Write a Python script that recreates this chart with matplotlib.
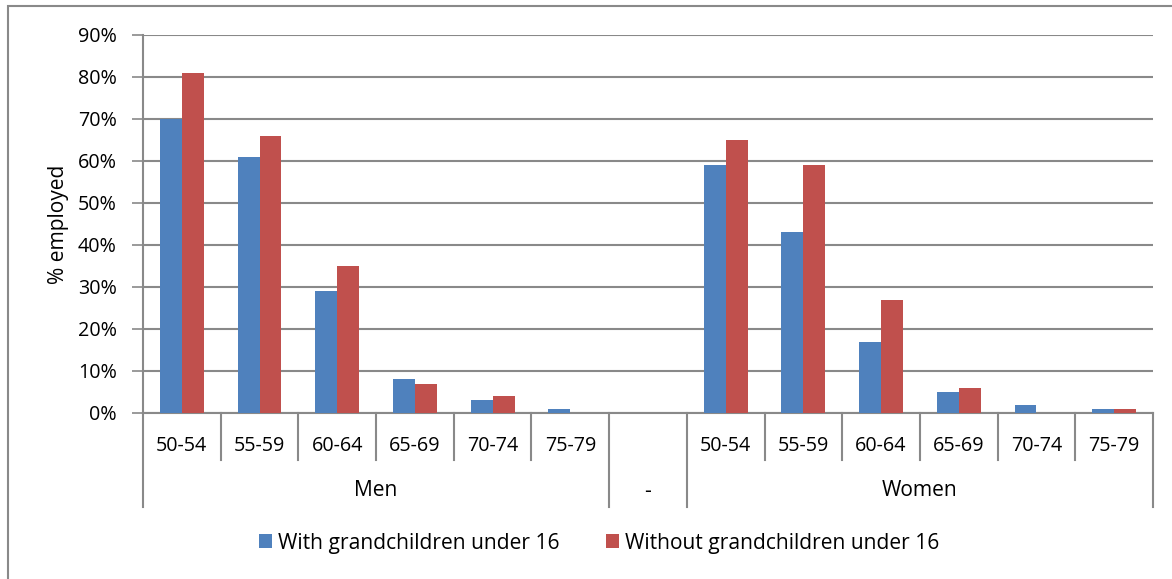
import matplotlib.pyplot as plt
from matplotlib.patches import Rectangle
from matplotlib.lines import Line2D
from matplotlib.ticker import PercentFormatter
import numpy as np

plt.rcParams['font.family'] = ['Open Sans', 'DejaVu Sans']

ages = ['50-54', '55-59', '60-64', '65-69', '70-74', '75-79']
groups = ['Men', '-', 'Women']
series = ['With grandchildren under 16', 'Without grandchildren under 16']

men_with = [70, 61, 29, 8, 3, 1]
men_without = [81, 66, 35, 7, 4, 0]
women_with = [59, 43, 17, 5, 2, 1]
women_without = [65, 59, 27, 6, 0, 1]

blue = '#4F81BD'
red = '#C0504D'
grey = '#898989'
fs = 14.2      # numbers
fs_txt = 15.1  # words

# 6 men categories, one empty spacer, 6 women categories
with_vals = men_with + [np.nan] + women_with
without_vals = men_without + [np.nan] + women_without
labels = ages + [''] + ages
x = np.arange(len(labels))

fig = plt.figure(figsize=(11.72, 5.79), dpi=100)
W, H = 1172, 579
ax = fig.add_axes([143 / W, (H - 413) / H, (1153 - 143) / W, (413 - 35) / H])

bw = 0.282
ax.bar(x - bw / 2, with_vals, bw, color=blue, label=series[0], zorder=3)
ax.bar(x + bw / 2, without_vals, bw, color=red, label=series[1], zorder=3)

ax.set_xlim(-0.5, len(labels) - 0.5)
ax.set_ylim(0, 90)
ax.set_yticks(np.arange(0, 91, 10))
ax.yaxis.set_major_formatter(PercentFormatter(decimals=0))
ax.tick_params(axis='y', length=8, width=1.2, color=grey, pad=11, labelsize=fs)
ax.set_xticks([])
ax.yaxis.grid(True, color=grey, lw=1.5, zorder=0)
ax.set_axisbelow(True)
for side in ['top', 'right']:
    ax.spines[side].set_visible(False)
ax.spines['left'].set_color(grey)
ax.spines['left'].set_linewidth(1.5)
ax.spines['bottom'].set_color(grey)
ax.spines['bottom'].set_linewidth(1.5)
ax.set_ylabel('% employed', fontsize=fs_txt, labelpad=6)

# multi-level category axis drawn below the plot
tr = ax.get_xaxis_transform()
row1 = (413 - 446) / 378
row2 = (413 - 491) / 378
inner = (413 - 460) / 378
outer = (413 - 507) / 378
for i, lab in enumerate(labels):
    if lab:
        ax.text(x[i], row1, lab, transform=tr, ha='center', va='center', fontsize=fs)
for b in np.arange(-0.5, len(labels), 1.0):
    bottom = outer if b in (-0.5, 5.5, 6.5, 12.5) else inner
    ax.add_line(Line2D([b, b], [0, bottom], transform=tr, color=grey, lw=1.5, clip_on=False))
group_centers = [2.5, 6, 9.5]
for gx, g in zip(group_centers, groups):
    ax.text(gx, row2, g, transform=tr, ha='center', va='center', fontsize=fs_txt)

fig.legend(loc='center', bbox_to_anchor=(599 / W, 1 - 543 / H), ncol=2, frameon=False,
           fontsize=fs_txt, handlelength=0.62, handleheight=0.62, handletextpad=0.28,
           columnspacing=2.2)

# chart frame
fig.patches.append(Rectangle((7.5 / W, -0.1), 1.1, 1.1 - 5.5 / H, transform=fig.transFigure,
                             fill=False, edgecolor=grey, lw=1.5))

fig.savefig('out.png', dpi=100)
